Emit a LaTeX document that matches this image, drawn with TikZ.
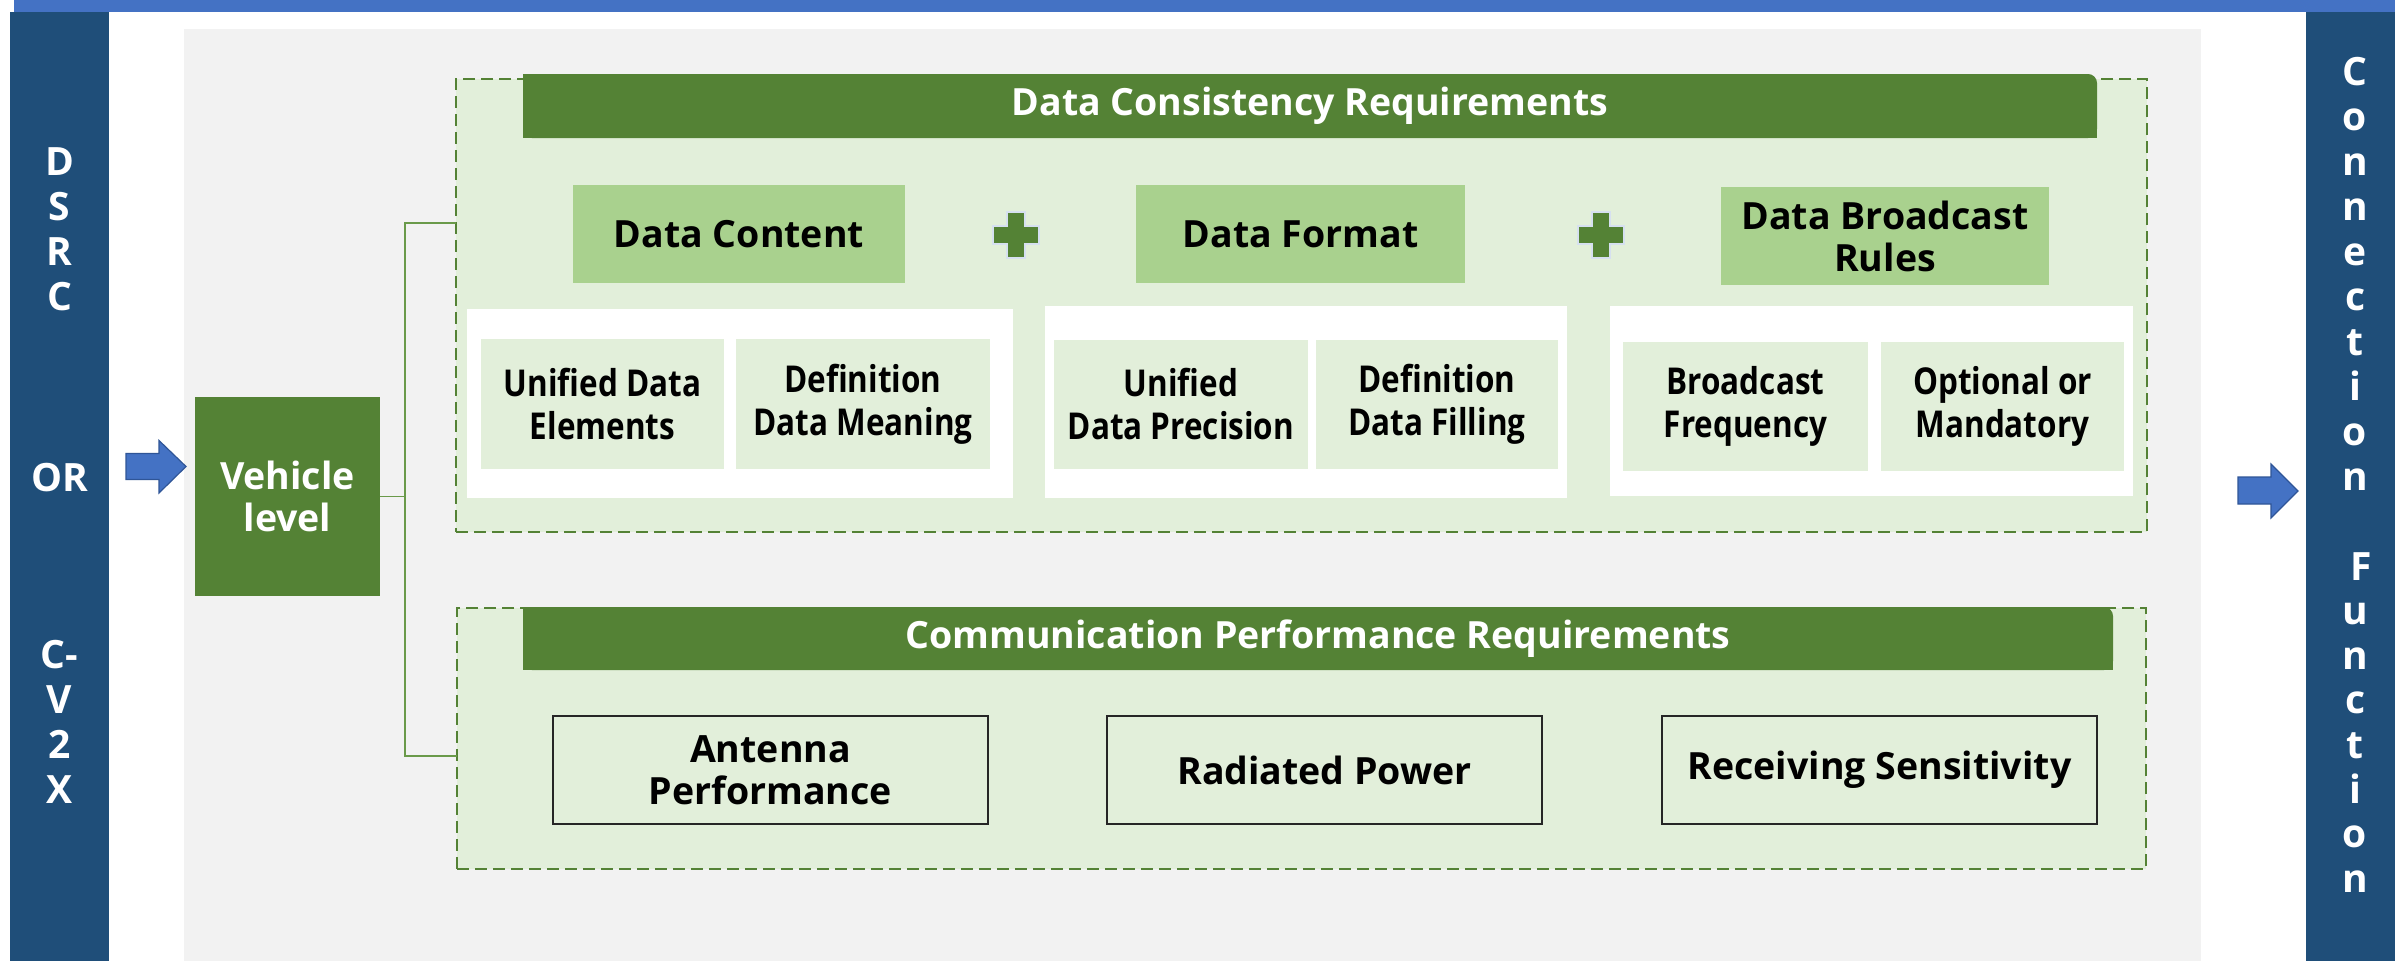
\documentclass[tikz,border=0pt]{standalone}
\usepackage{fontspec}
\setmainfont{Open Sans}
\newfontfamily\condf[FakeStretch=0.85]{Open Sans}
\usetikzlibrary{calc}
\definecolor{darkbar}{HTML}{1F4E79}
\definecolor{topbar}{HTML}{4472C4}
\definecolor{panelgray}{HTML}{F2F2F2}
\definecolor{dkgreen}{HTML}{548235}
\definecolor{ltgreen}{HTML}{A9D18E}
\definecolor{palegreen}{HTML}{E2EFDA}
\definecolor{arrowedge}{HTML}{2F5597}
\definecolor{plusedge}{HTML}{D6E0F0}
\definecolor{connline}{HTML}{6A9A4A}
\newcommand\fhead{\fontsize{37.5pt}{42pt}\selectfont\bfseries}
\newcommand\fsub{\condf\fontsize{37pt}{43pt}\selectfont\bfseries}
\newcommand\fvert{\fontsize{39pt}{45pt}\selectfont\bfseries}
\begin{document}
\begin{tikzpicture}[x=1pt,y=-1pt,
  sz/.style 2 args={rectangle,inner sep=0pt,outer sep=0pt,minimum width=#1,minimum height=#2},
  hdtext/.style={text=white,font=\fhead,align=center,inner sep=0pt},
  catbox/.style={fill=ltgreen,font=\fhead,align=center},
  panel/.style={fill=white},
  subbox/.style={fill=palegreen,font=\fsub,align=center},
  dashbox/.style={fill=palegreen,draw=dkgreen,line width=2.5pt,dash pattern=on 12pt off 6pt},
  perfbox/.style={fill=palegreen,draw=black!85,line width=1.5pt,font=\fhead,align=center},
  conn/.style={draw=connline,line width=1.8pt},
  blockarrow/.style={fill=topbar,draw=arrowedge,line width=1.2pt},
  plus/.style={fill=dkgreen,draw=plusedge,line width=1.5pt},
  vlet/.style={text=white,font=\fvert,anchor=base,inner sep=0pt}
]
\useasboundingbox (0,0) rectangle (2395,961);
\fill[white] (0,0) rectangle (2395,961);
% bars
\fill[topbar] (14,0) rectangle (2395,12);
\node[sz={99pt}{949pt},fill=darkbar] (lbar) at (59.5,486.5) {};
\node[sz={89pt}{949pt},fill=darkbar] (rbar) at (2350.5,486.5) {};
\node[sz={2017pt}{932pt},fill=panelgray] (gpanel) at (1192.5,495) {};
% left bar letters
\foreach \ch [count=\i from 0] in {D,S,R,C}
  \node[vlet] (ls\i) at (59.5,175.5+45*\i) {\ch};
\node[vlet] (lor) at (59.5,491) {OR};
\foreach \ch [count=\i from 0] in {C-,V,2,X}
  \node[vlet] (lc\i) at (59.5,668.5+45*\i) {\ch};
% right bar letters
\foreach \ch [count=\i from 0] in {C,o,n,n,e,c,t,i,o,n}
  \node[vlet] (rc\i) at (2355,85+45*\i) {\ch};
\foreach \ch/\dx [count=\i from 0] in {F/6,u/0,n/0,c/0,t/0,i/0,o/0,n/0}
  \node[vlet] (rf\i) at (2355+\dx,580+44.6*\i) {\ch};
% block arrows
\coordinate (la) at (126,466.5);
\coordinate (ra) at (2238,490.5);
\draw[blockarrow] (la) ++(0,-13) -- ++(33,0) -- ++(0,-13) -- ++(27,26) -- ++(-27,26.5) -- ++(0,-13.5) -- ++(-33,0) -- cycle;
\draw[blockarrow] (ra) ++(0,-13.5) -- ++(33,0) -- ++(0,-13) -- ++(27,27) -- ++(-27,27) -- ++(0,-14) -- ++(-33,0) -- cycle;
% vehicle
\node[sz={185pt}{199pt},fill=dkgreen,text=white,font=\fhead,align=center] (veh) at (287.5,496.5) {Vehicle\\level};
% dashed boxes
\node[sz={1691pt}{453pt},dashbox] (box1) at (1301.5,305.5) {};
\node[sz={1689pt}{261pt},dashbox] (box2) at (1301.5,738.5) {};
% connector
\coordinate (c1) at ($(box1.north west)!0.318!(box1.south west)$);
\coordinate (c2) at ($(box2.north west)!0.567!(box2.south west)$);
\draw[conn] (veh.east) -- ++(25,0) coordinate (jn);
\draw[conn] (c1) -| (jn) |- (c2);
% header 1
\node[sz={1574pt}{64pt}] (hd1) at (1310,106) {};
\fill[dkgreen,rounded corners=9pt] (hd1.south west) rectangle (hd1.north east);
\fill[dkgreen] (hd1.south west) rectangle ([xshift=-12pt]hd1.north east);
\fill[dkgreen] (hd1.south west) rectangle ([yshift=-12pt]hd1.north east);
\node[hdtext] (hd1t) at (hd1.center) {Data Consistency Requirements};
% categories
\node[sz={332pt}{98pt},catbox] (dc) at (739,234) {Data Content};
\node[sz={329pt}{98pt},catbox] (df) at (1300.5,234) {Data Format};
\node[sz={328pt}{98pt},catbox] (dbr) at (1885,236) {Data Broadcast\\Rules};
% plus signs
\coordinate (pl1) at (1016,235);
\coordinate (pl2) at (1601,235);
\foreach \p in {pl1,pl2}
  \draw[plus] (\p) ++(-9,-23) -- ++(18,0) -- ++(0,14) -- ++(14,0) -- ++(0,18) -- ++(-14,0) -- ++(0,14) -- ++(-18,0) -- ++(0,-14) -- ++(-14,0) -- ++(0,-18) -- ++(14,0) -- cycle;
% white panels
\node[sz={546pt}{189pt},panel] (p1) at (740,403.5) {};
\node[sz={522pt}{192pt},panel] (p2) at (1306,402) {};
\node[sz={523pt}{190pt},panel] (p3) at (1871.5,401) {};
% sub boxes
\node[sz={243pt}{130pt},subbox] (s1a) at (602.5,404) {Unified Data\\Elements};
\node[sz={254pt}{130pt},subbox] (s1b) at (863,404) {Definition\\Data Meaning};
\node[sz={254pt}{129pt},subbox] (s2a) at (1181,404.5) {Unified\\Data Precision};
\node[sz={242pt}{129pt},subbox] (s2b) at (1437,404.5) {Definition\\Data Filling};
\node[sz={245pt}{129pt},subbox] (s3a) at (1745.5,406.5) {Broadcast\\Frequency};
\node[sz={243pt}{129pt},subbox] (s3b) at (2002.5,406.5) {Optional or\\Mandatory};
% header 2
\node[sz={1590pt}{63pt}] (hd2) at (1318,638.5) {};
\fill[dkgreen,rounded corners=9pt] (hd2.south west) rectangle (hd2.north east);
\fill[dkgreen] (hd2.south west) rectangle ([xshift=-12pt]hd2.north east);
\fill[dkgreen] (hd2.south west) rectangle ([yshift=-12pt]hd2.north east);
\node[hdtext] (hd2t) at (hd2.center) {Communication Performance Requirements};
% performance boxes
\node[sz={435pt}{108pt},perfbox] (b1) at (770.5,770) {Antenna\\Performance};
\node[sz={435pt}{108pt},perfbox] (b2) at (1324.5,770) {Radiated Power};
\node[sz={435pt}{108pt},perfbox] (b3) at (1879.5,770) {Receiving Sensitivity};
\end{tikzpicture}
\end{document}
